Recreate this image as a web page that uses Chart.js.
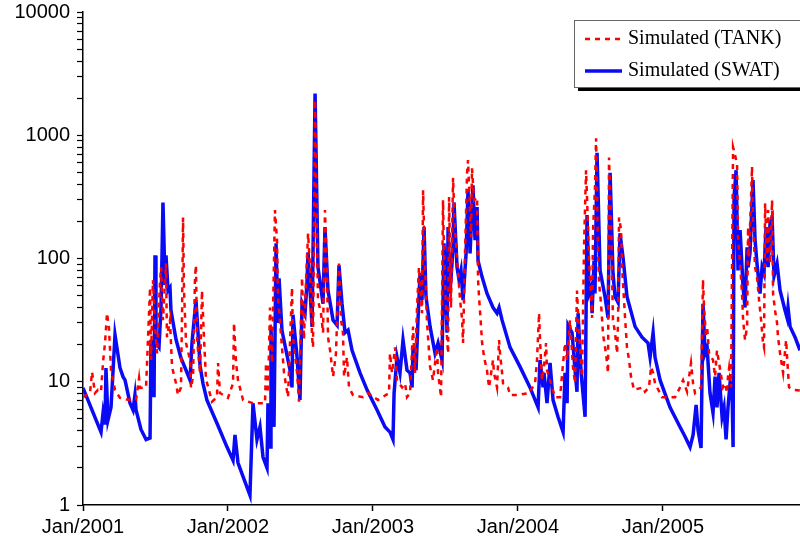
<!DOCTYPE html>
<html>
<head>
<meta charset="utf-8">
<script src="https://cdn.jsdelivr.net/npm/chart.js@4.4.1/dist/chart.umd.min.js"></script>
<style>
  html, body { margin: 0; padding: 0; background: #fff; }
  canvas { display: block; }
</style>
</head>
<body>
<canvas id="flow-chart" width="800" height="548"></canvas>
<script>
// x values are months counted from Jan 2001
const yearTicks = [0, 12, 24, 36, 48];
const yearLabels = ["Jan/2001", "Jan/2002", "Jan/2003", "Jan/2004", "Jan/2005"];
const xMaxMonth = 59.35;

const seriesLabels = ["Simulated (TANK)", "Simulated (SWAT)"];

// TANK model (red dashed)
const tankMonths = [0, 0.58, 0.75, 0.99, 1.24, 1.49, 1.66, 1.82, 1.99, 2.15, 2.32, 2.65, 3.06, 3.48, 4.39, 4.64, 4.72, 5.22,
    5.55, 5.63, 5.79, 5.96, 6.13, 6.37, 6.46, 6.62, 6.87, 6.95, 7.20, 7.37, 7.70, 7.86, 8.11, 8.20, 8.28, 8.36, 8.53, 8.86,
    8.94, 9.11, 9.27, 9.35, 9.44, 9.69, 9.85, 10.02, 10.18, 10.68, 11.09, 11.18, 11.34, 12.0, 12.42, 12.5, 12.67, 12.83,
    13.25, 14.07, 15.07, 15.15, 15.31, 15.48, 15.65, 15.89, 16.06, 16.14, 16.47, 16.64, 16.97, 17.30, 17.38, 17.72, 17.88,
    18.13, 18.29, 18.46, 18.63, 18.79, 18.96, 19.04, 19.21, 19.37, 19.45, 19.70, 19.87, 20.03, 20.20, 20.28, 20.45, 20.70,
    20.94, 21.19, 21.36, 21.52, 21.61, 21.85, 22.02, 22.35, 23.18, 23.59, 24.42, 25.33, 25.41, 25.58, 25.83, 25.99, 26.41,
    26.66, 26.82, 27.07, 27.32, 27.48, 27.65, 27.81, 28.06, 28.15, 28.31, 28.48, 28.73, 28.97, 29.30, 29.39, 29.64, 29.80,
    29.88, 30.13, 30.22, 30.30, 30.46, 30.63, 30.79, 31.04, 31.21, 31.37, 31.46, 31.62, 31.79, 31.87, 32.12, 32.20, 32.37,
    32.62, 32.70, 32.78, 32.95, 33.03, 33.20, 33.44, 33.61, 33.94, 34.02, 34.27, 34.44, 34.52, 34.69, 34.77, 35.18, 35.35,
    35.93, 36.92, 37.42, 37.58, 37.75, 37.83, 37.99, 38.16, 38.33, 38.41, 38.66, 39.07, 39.49, 39.74, 39.90, 40.07, 40.31,
    40.56, 40.73, 40.89, 41.06, 41.31, 41.47, 41.64, 41.72, 41.89, 42.14, 42.22, 42.38, 42.47, 42.63, 42.72, 42.88, 43.05,
    43.29, 43.46, 43.54, 43.71, 43.79, 43.87, 44.04, 44.21, 44.29, 44.37, 44.54, 44.62, 44.87, 45.03, 45.20, 45.36, 45.61,
    46.36, 46.52, 46.85, 47.02, 47.19, 47.35, 47.52, 47.93, 49.01, 49.42, 49.67, 50.0, 50.33, 50.50, 50.66, 51.16, 51.32,
    51.41, 51.57, 51.66, 51.82, 52.15, 52.32, 52.48, 52.65, 52.98, 53.15, 53.31, 53.39, 53.48, 53.64, 53.81, 53.97, 54.14,
    54.22, 54.39, 54.55, 54.64, 54.80, 54.97, 55.05, 55.13, 55.38, 55.46, 55.63, 55.79, 55.96, 56.13, 56.29, 56.37, 56.46,
    56.62, 56.71, 56.87, 57.04, 57.12, 57.28, 57.45, 57.53, 57.70, 57.95, 58.20, 58.28, 58.44, 58.77, 59.35];
const tankFlow = [7.5, 8.1, 12, 8.1, 8.6, 8.3, 14.5, 20.6, 36, 27, 12.4, 8.6, 7.4, 7.2, 7.1, 10.7, 8.9, 9,
    58, 15, 67, 28, 17, 63, 85, 31.6, 91, 23, 31.6, 13.2, 9.7, 7.8, 9, 36.6, 215, 55, 20.6, 15,
    8.9, 11, 70, 88, 22, 11.8, 55, 22, 10.5, 6.9, 7.5, 14.2, 8.1, 7.4, 9.7, 30, 14.2, 10.3,
    7.1, 6.7, 6.7, 14.2, 8.1, 40, 14.2, 247, 141, 49, 19, 11.8, 7.5, 58, 23, 11.8, 6.9,
    70, 22, 67, 160, 85, 23, 19, 1930, 141, 46, 36, 25, 247, 76, 23, 18, 11,
    17, 91, 31.6, 25, 11, 15.8, 9, 7.8, 7.5, 8.1, 7.1, 8.1, 17, 11.8, 19, 10.3, 9,
    9.7, 7.5, 8.1, 28, 11.8, 40, 85, 36, 358, 85, 30, 13.2, 10.3, 19, 11.8, 7.5, 297,
    110, 23, 17, 315, 40, 452, 170, 80, 46, 33, 20.6, 110, 495, 628, 148, 540, 297,
    315, 67, 49, 28, 21, 15.8, 12.4, 9, 15, 11.8, 9, 21.8, 17, 11.8, 9.7, 9, 7.8,
    7.8, 8.1, 9.7, 15, 36, 21.8, 10.3, 13.2, 20.6, 12.4, 10.3, 7.5, 7.5, 14.2, 20.6, 15, 31.6,
    13.2, 9.7, 55, 25, 11, 123, 520, 315, 96, 33, 170, 380, 945, 123, 63, 43, 24,
    17, 11.8, 660, 205, 76, 31.6, 25, 17, 31.6, 215, 170, 85, 33, 19, 15, 11, 8.6,
    9, 8.3, 9, 13.2, 11.8, 9.7, 9, 7.5, 7.5, 9, 10.3, 8.3, 14.2, 9.7, 8.1, 9, 67,
    40, 23, 28, 17, 15, 11, 18, 14.2, 9, 9.7, 8.1, 11, 12.9, 9, 800, 690, 590,
    148, 91, 52, 31.6, 21.8, 28, 180, 102, 555, 205, 85, 71, 46, 31.6, 20.6, 19, 280,
    96, 247, 91, 297, 52, 38, 30, 23, 17, 11.8, 21.8, 15.8, 9, 8.6, 8.5];

// SWAT model (blue solid)
const swatMonths = [0, 1.49, 1.66, 1.82, 1.90, 2.07, 2.32, 2.65, 3.06, 3.31, 3.48, 3.89, 4.14, 4.30, 4.39, 4.80, 5.22,
    5.55, 5.63, 5.88, 5.96, 6.04, 6.29, 6.46, 6.62, 6.79, 6.87, 7.04, 7.20, 7.28, 7.70, 8.11, 8.53, 8.86, 9.02, 9.35, 9.52,
    9.69, 9.93, 10.26, 11.09, 11.92, 12.42, 12.58, 12.83, 13.25, 13.82, 14.07, 14.40, 14.65, 14.90, 15.23, 15.31, 15.48,
    15.56, 15.81, 15.98, 16.14, 16.23, 16.47, 17.14, 17.30, 17.38, 17.72, 17.96, 18.13, 18.38, 18.54, 18.63, 18.96, 19.21,
    19.45, 19.87, 20.03, 20.28, 20.70, 21.03, 21.19, 21.44, 21.69, 21.94, 22.27, 22.93, 23.51, 24.34, 25.0, 25.41, 25.66,
    25.75, 25.99, 26.24, 26.49, 26.82, 27.07, 27.24, 27.32, 27.57, 27.73, 27.90, 28.06, 28.23, 28.39, 28.73, 29.14, 29.39,
    29.72, 29.88, 30.13, 30.22, 30.38, 30.63, 30.71, 30.96, 31.13, 31.29, 31.46, 31.71, 31.87, 32.04, 32.28, 32.45, 32.62,
    32.70, 33.03, 33.44, 33.94, 34.27, 34.44, 34.69, 35.35, 36.18, 37.0, 37.67, 37.83, 38.08, 38.16, 38.41, 38.66, 38.91,
    39.32, 39.74, 39.90, 40.07, 40.15, 40.48, 40.73, 40.89, 40.98, 41.23, 41.56, 41.72, 41.89, 42.05, 42.14, 42.30, 42.38,
    42.55, 42.80, 43.21, 43.46, 43.63, 43.87, 44.04, 44.29, 44.45, 44.70, 45.03, 45.70, 46.27, 46.77, 46.94, 47.19, 47.35,
    47.77, 48.59, 49.42, 49.83, 50.25, 50.50, 50.75, 50.91, 51.16, 51.32, 51.49, 51.66, 51.90, 52.15, 52.32, 52.48, 52.65,
    52.90, 53.06, 53.23, 53.39, 53.56, 53.73, 53.81, 53.89, 54.06, 54.22, 54.39, 54.64, 54.80, 54.97, 55.05, 55.21, 55.46,
    55.63, 55.79, 56.04, 56.21, 56.37, 56.54, 56.71, 56.87, 57.04, 57.20, 57.45, 57.70, 58.11, 58.28, 58.36, 58.53, 58.94,
    59.35];
const swatFlow = [8.9, 3.9, 5.6, 4.5, 12.9, 4.9, 6.2, 24, 13, 11, 10.3, 6.7, 5.9, 7.8, 5.9, 4.1, 3.4,
    3.5, 21.8, 7.5, 106, 20.6, 19, 40, 285, 63, 106, 55, 58, 38, 22, 15.6, 12.4, 10.3, 20.6, 46, 25,
    13.5, 9.7, 7.1, 4.6, 2.95, 2.3, 3.7, 2.2, 1.7, 1.2, 6.7, 3.4, 4.3, 2.45, 2.0, 6.7, 2.95,
    27.8, 4.3, 133, 30, 69, 26, 12.4, 9, 35, 15.8, 7.1, 43, 36, 63, 112, 27.8, 2180,
    85, 43, 180, 55, 31.6, 28.8, 88, 43, 25, 26.3, 18, 11.8, 8.6, 5.9, 4.3, 3.9, 3.4,
    8.1, 15.8, 11.8, 21.8, 12.4, 11.8, 9, 19, 12.4, 31.6, 76, 46, 180, 49, 28, 17, 20.6,
    15, 133, 25, 180, 52, 123, 285, 85, 67, 80, 46, 110, 358, 110, 393, 141, 262,
    96, 71, 52, 40, 36, 40, 31.6, 19, 13.2, 9, 6.2, 15, 9, 11.8, 6.7, 14.2, 7.1,
    5.2, 3.9, 11.8, 6.7, 28.8, 25, 12.4, 8.3, 36, 11.8, 5.2, 225, 52, 58, 36, 96, 52,
    720, 80, 49, 33, 495, 76, 49, 44, 160, 102, 49, 28, 23, 20.6, 15.8, 25, 15.8,
    10.3, 6.2, 4.3, 3.6, 2.95, 3.7, 6.5, 4.06, 2.9, 43, 17, 19, 8.1, 5.6, 11, 6.2, 11.8,
    5.2, 6.2, 3.4, 6.2, 9.7, 8.1, 2.95, 315, 520, 80, 170, 58, 40, 123, 85, 110, 432,
    141, 91, 52, 85, 76, 180, 85, 195, 215, 72, 91, 55, 38, 33, 40, 28, 23,
    18];

const axisFont = { family: 'Arial, "Liberation Sans", sans-serif', size: 20 };

function toPoints(xs, ys) {
    return xs.map((x, i) => ({ x: x, y: ys[i] }));
}

// boxed legend with a drop shadow, drawn over the plot
const boxedLegend = {
    id: 'boxedLegend',
    afterDraw(chart) {
        const ctx = chart.ctx;
        const left = 574, top = 20, w = 232, h = 67;
        ctx.save();
        ctx.fillStyle = '#000';
        ctx.fillRect(left + 4, top + 4, w, h);
        ctx.fillStyle = '#fff';
        ctx.fillRect(left, top, w, h);
        ctx.strokeStyle = '#666';
        ctx.lineWidth = 1;
        ctx.strokeRect(left + 0.5, top + 0.5, w, h);
        chart.data.datasets.forEach((ds, i) => {
            const y = top + 19 + i * 32;
            ctx.beginPath();
            ctx.setLineDash(ds.borderDash || []);
            ctx.strokeStyle = ds.borderColor;
            ctx.lineWidth = ds.borderWidth;
            ctx.moveTo(585, y);
            ctx.lineTo(622, y);
            ctx.stroke();
            ctx.setLineDash([]);
            ctx.fillStyle = '#000';
            ctx.font = '20px "Liberation Serif", "Times New Roman", serif';
            ctx.textBaseline = 'middle';
            ctx.fillText(ds.label, 628, y);
        });
        ctx.restore();
    }
};

new Chart(document.getElementById("flow-chart"), {
    type: 'line',
    data: {
        datasets: [
            {
                label: seriesLabels[0],
                data: toPoints(tankMonths, tankFlow),
                borderColor: 'rgb(255, 0, 0)',
                backgroundColor: 'rgb(255, 0, 0)',
                borderWidth: 2.5,
                borderDash: [5, 5],
                pointRadius: 0,
                tension: 0
            },
            {
                label: seriesLabels[1],
                data: toPoints(swatMonths, swatFlow),
                borderColor: 'rgb(10, 10, 245)',
                backgroundColor: 'rgb(10, 10, 245)',
                borderWidth: 3.5,
                pointRadius: 0,
                tension: 0
            }
        ]
    },
    options: {
        responsive: false,
        animation: false,
        layout: { padding: { left: 0, right: 0, top: 12, bottom: 0 } },
        plugins: {
            legend: { display: false },
            tooltip: { enabled: false }
        },
        scales: {
            x: {
                type: 'linear',
                min: 0,
                max: xMaxMonth,
                afterBuildTicks: scale => {
                    scale.ticks = yearTicks.map(v => ({ value: v }));
                },
                afterFit: scale => {
                    scale.height = 43;
                    scale.paddingLeft = 0;
                    scale.paddingRight = 0;
                },
                ticks: {
                    autoSkip: false,
                    maxRotation: 0,
                    padding: 4,
                    color: '#000',
                    font: axisFont,
                    callback: v => yearLabels[yearTicks.indexOf(v)]
                },
                grid: {
                    drawOnChartArea: false,
                    drawTicks: true,
                    tickLength: 6,
                    tickColor: '#000',
                    tickWidth: 1.5
                },
                border: { color: '#000', width: 1.5 }
            },
            y: {
                type: 'logarithmic',
                min: 1,
                max: 10000,
                afterBuildTicks: scale => {
                    const t = [];
                    for (let p = 1; p <= 1000; p *= 10) {
                        for (let k = 1; k <= 9; k++) t.push({ value: k * p });
                    }
                    t.push({ value: 10000 });
                    scale.ticks = t;
                },
                afterFit: scale => {
                    scale.width = 83;
                    scale.paddingTop = 0;
                    scale.paddingBottom = 0;
                },
                ticks: {
                    autoSkip: false,
                    padding: 7,
                    color: '#000',
                    font: axisFont,
                    callback: v => {
                        const l = Math.log10(v);
                        return Math.abs(l - Math.round(l)) < 1e-9 ? String(v) : '';
                    }
                },
                grid: {
                    drawOnChartArea: false,
                    drawTicks: true,
                    tickLength: 6,
                    tickColor: '#000',
                    tickWidth: 1.2
                },
                border: { color: '#000', width: 1.5 }
            }
        }
    },
    plugins: [boxedLegend]
});
</script>
</body>
</html>
